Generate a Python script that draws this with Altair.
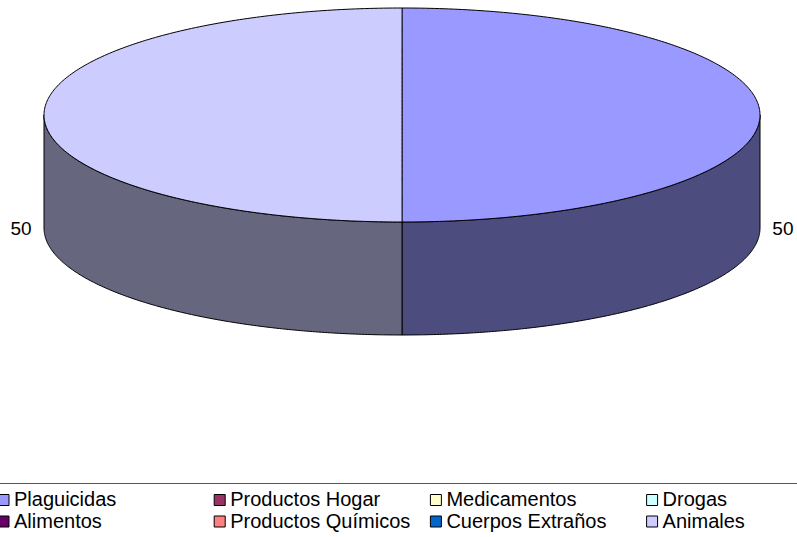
import altair as alt
import numpy as np
import pandas as pd

# ---- data ----
categories = ["Plaguicidas", "Alimentos", "Productos Hogar", "Productos Químicos",
              "Medicamentos", "Cuerpos Extraños", "Drogas", "Animales"]
values = [50, 0, 0, 0, 0, 0, 0, 50]
colors = ["#9999FF", "#660066", "#993366", "#FF8080",
          "#FFFFCC", "#0066CC", "#CCFFFF", "#CCCCFF"]

# ---- 3-D pie geometry (unit ellipse, derived from the values) ----
W, H = 797, 537
RX, RY, CX, CY, DEPTH_PX = 358.0, 107.0, 402.0, 115.0, 113.0
depth = DEPTH_PX / RY
x_dom = [-CX / RX, (W - CX) / RX]
y_dom = [-(H - CY) / RY, CY / RY]


def darker(hexcol):
    h = hexcol.lstrip("#")
    return "#" + "".join(f"{int(h[i:i+2], 16) // 2:02x}" for i in (0, 2, 4))


color_of = dict(zip(categories, colors))
total = float(sum(values))
top_rows, side_rows, label_rows = [], [], []
cum = 0.0
for cat, v in zip(categories, values):
    if v <= 0:
        continue
    a0 = 2 * np.pi * cum / total
    cum += v
    a1 = 2 * np.pi * cum / total
    for a in np.linspace(a0, a1, 241):
        top_rows.append({"category": cat, "X": np.sin(a), "Y": np.cos(a)})
    lo, hi = max(a0, np.pi / 2), min(a1, 3 * np.pi / 2)
    if hi > lo:
        for a in np.linspace(lo, hi, 181):
            side_rows.append({"category": cat, "X": np.sin(a), "Y": np.cos(a),
                              "Y2": np.cos(a) - depth,
                              "side": darker(color_of[cat])})
    mid = (a0 + a1) / 2
    label_rows.append({"category": cat, "X": 1.064 * np.sin(mid),
                       "Y": 1.07 * np.cos(mid) - depth * abs(np.sin(mid)) - 0.01,
                       "label": f"{v:g}"})

top_df = pd.DataFrame(top_rows)
side_df = pd.DataFrame(side_rows)
label_df = pd.DataFrame(label_rows)

xs = alt.Scale(domain=x_dom, nice=False, zero=False)
ys = alt.Scale(domain=y_dom, nice=False, zero=False)

side = alt.Chart(side_df).mark_area(stroke="black", strokeWidth=1, orient="vertical").encode(
    x=alt.X("X:Q", scale=xs, axis=None),
    y=alt.Y("Y:Q", scale=ys, axis=None),
    y2="Y2:Q",
    fill=alt.Fill("side:N", scale=None),
    detail="category:N",
)

top = alt.Chart(top_df).mark_area(stroke="black", strokeWidth=1, orient="horizontal").encode(
    y=alt.Y("Y:Q", scale=ys, axis=None),
    x=alt.X("X:Q", scale=xs, axis=None),
    x2=alt.datum(0),
    fill=alt.Fill(
        "category:N",
        scale=alt.Scale(domain=categories, range=colors),
        legend=alt.Legend(
            title=None, orient="none", legendX=-6.5, legendY=490, columns=4,
            symbolType="square", symbolSize=121, symbolStrokeColor="black",
            symbolStrokeWidth=1, symbolOpacity=1,
            labelFont="Liberation Sans", labelFontSize=20, labelColor="black",
            labelOffset=0.5, labelLimit=0, columnPadding=15.2, rowPadding=1.5,
            gridAlign="all", padding=0,
        ),
    ),
)

labels = alt.Chart(label_df).mark_text(
    font="Liberation Sans", fontSize=19, color="black", align="center", baseline="middle"
).encode(
    x=alt.X("X:Q", scale=xs, axis=None),
    y=alt.Y("Y:Q", scale=ys, axis=None),
    text="label:N",
)

legend_line = alt.Chart(pd.DataFrame({"k": [0]})).mark_rule(
    color="#555555", strokeWidth=1
).encode(x=alt.value(0), x2=alt.value(W), y=alt.value(483.5))

chart = alt.layer(side, top, labels, legend_line).properties(
    width=W, height=H, padding=0, autosize=alt.AutoSizeParams(type="none"),
    background="white",
).configure_view(stroke=None)

chart.save("out.html", embed_options={"renderer": "svg", "actions": False})
